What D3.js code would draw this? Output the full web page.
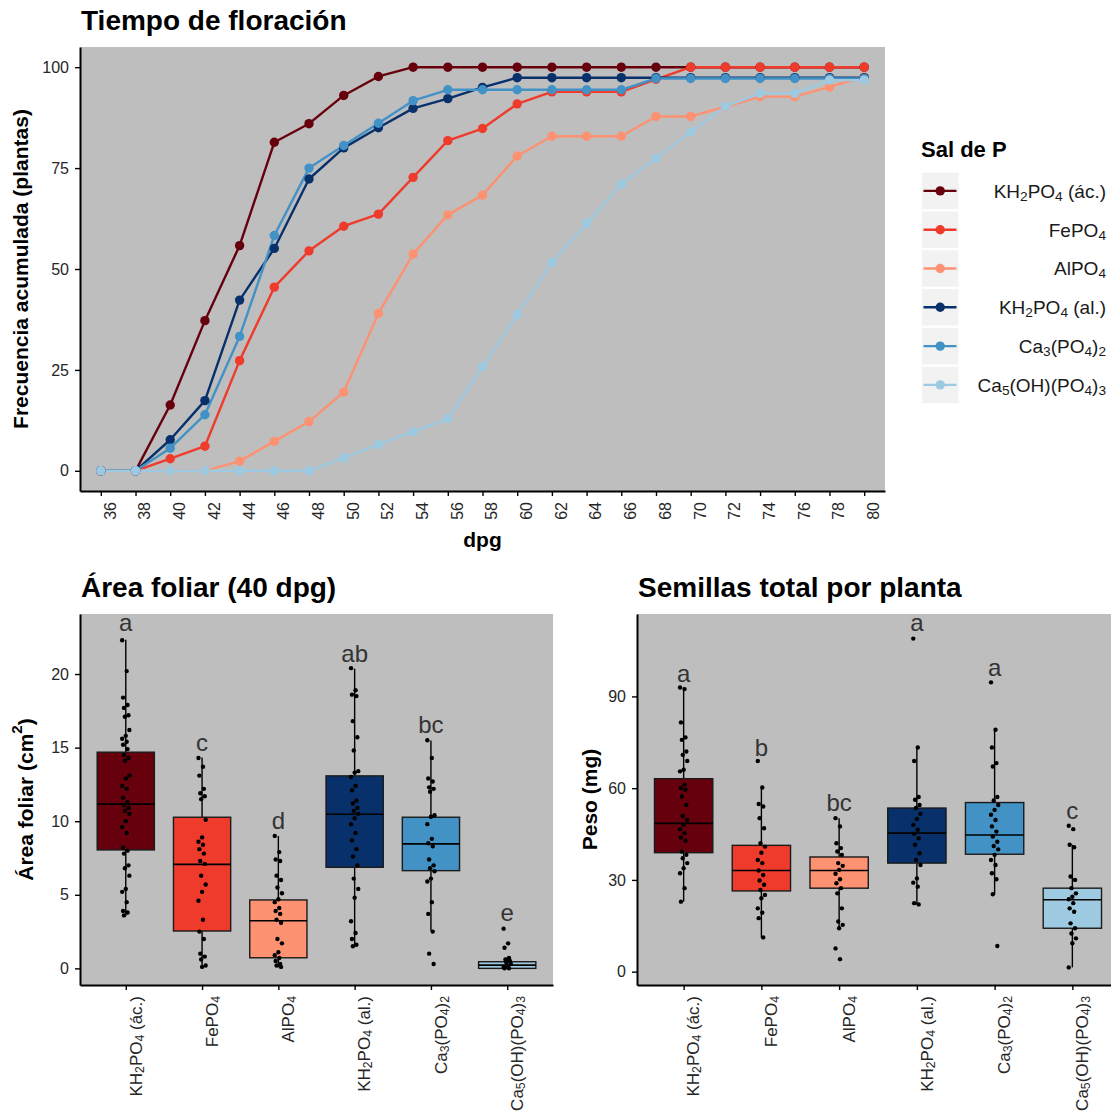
<!DOCTYPE html>
<html>
<head>
<meta charset="utf-8">
<script src="https://cdn.jsdelivr.net/npm/d3@7"></script>
<style>
  body { margin: 0; background: #fff; }
  svg { display: block; font-family: "Liberation Sans", Arial, Helvetica, sans-serif; }
</style>
</head>
<body>
<svg id="fig" width="1111" height="1120"></svg>
<script>
// ---- shared categories ----
const salts = ["KH2PO4 (ác.)", "FePO4", "AlPO4", "KH2PO4 (al.)", "Ca3(PO4)2", "Ca5(OH)(PO4)3"];
// label pieces: [text, "sub" | ""]
const saltLabels = [
  [["KH", ""], ["2", "sub"], ["PO", ""], ["4", "sub"], [" (ác.)", ""]],
  [["FePO", ""], ["4", "sub"]],
  [["AlPO", ""], ["4", "sub"]],
  [["KH", ""], ["2", "sub"], ["PO", ""], ["4", "sub"], [" (al.)", ""]],
  [["Ca", ""], ["3", "sub"], ["(PO", ""], ["4", "sub"], [")", ""], ["2", "sub"]],
  [["Ca", ""], ["5", "sub"], ["(OH)(PO", ""], ["4", "sub"], [")", ""], ["3", "sub"]]
];
const saltColors = ["#67000d", "#ef3b2c", "#fc9272", "#08306b", "#4292c6", "#9ecae1"];

// ---- flowering time: cumulative % of plants flowered ----
const dpg = [36, 38, 40, 42, 44, 46, 48, 50, 52, 54, 56, 58, 60, 62, 64, 66, 68, 70, 72, 74, 76, 78, 80];
const flowKH2PO4ac = [0, 0, 16.3, 37.2, 55.8, 81.4, 86.0, 93.0, 97.7, 100, 100, 100, 100, 100, 100, 100, 100, 100, 100, 100, 100, 100, 100];
const flowFePO4    = [0, 0, 3.0, 6.1, 27.3, 45.5, 54.5, 60.6, 63.6, 72.7, 81.8, 84.8, 90.9, 93.9, 93.9, 93.9, 97.0, 100, 100, 100, 100, 100, 100];
const flowAlPO4    = [0, 0, 0, 0, 2.4, 7.3, 12.2, 19.5, 39.0, 53.7, 63.4, 68.3, 78.0, 82.9, 82.9, 82.9, 87.8, 87.8, 90.2, 92.7, 92.7, 95.1, 97.6];
const flowKH2PO4al = [0, 0, 7.7, 17.4, 42.3, 55.1, 72.3, 80.0, 85.0, 89.8, 92.2, 95.0, 97.4, 97.4, 97.4, 97.4, 97.4, 97.4, 97.4, 97.4, 97.4, 97.4, 97.4];
const flowCa3PO4   = [0, 0, 5.6, 13.9, 33.3, 58.3, 75.0, 80.6, 86.1, 91.7, 94.4, 94.4, 94.4, 94.4, 94.4, 94.4, 97.2, 97.2, 97.2, 97.2, 97.2, 97.2, 97.2];
const flowCa5OHPO4 = [0, 0, 0, 0, 0, 0, 0, 3.2, 6.5, 9.7, 12.9, 25.8, 38.7, 51.6, 61.3, 71.0, 77.4, 83.9, 90.3, 93.5, 93.5, 96.8, 96.8];
const flowSeries = [flowKH2PO4ac, flowFePO4, flowAlPO4, flowKH2PO4al, flowCa3PO4, flowCa5OHPO4];
const flowTicks = [0, 25, 50, 75, 100];

// ---- leaf area at 40 dpg (cm2) ----
const areaPtsKH2PO4ac = [22.3, 20.2, 18.4, 17.9, 17.7, 17.2, 17.1, 16.2, 15.8, 15.6, 15.4, 15.2, 14.9, 14.5, 14.3, 14.1, 13.1, 12.9, 12.4, 12.2, 11.6, 11.3, 11.1, 10.9, 10.7, 10.5, 10.0, 9.6, 9.2, 8.2, 8.0, 7.8, 7.0, 6.8, 6.3, 5.4, 5.2, 4.5, 3.9, 3.8, 3.6];
const areaPtsFePO4 = [14.3, 13.7, 13.1, 12.2, 11.9, 11.7, 11.5, 10.1, 8.9, 8.6, 8.4, 8.1, 7.8, 7.3, 7.1, 6.3, 5.7, 5.2, 4.6, 3.3, 2.5, 2.0, 1.0, 0.8, 0.6, 0.2, 0.1];
const areaPtsAlPO4 = [9.0, 7.9, 7.4, 7.3, 6.3, 6.0, 5.5, 5.1, 4.7, 4.5, 4.1, 3.9, 3.7, 3.3, 3.1, 2.0, 1.7, 1.1, 0.9, 0.7, 0.5, 0.3, 0.2, 0.1];
const areaPtsKH2PO4al = [20.4, 18.9, 18.6, 18.5, 16.8, 15.7, 14.8, 13.4, 13.3, 13.0, 12.4, 12.1, 11.4, 11.2, 10.9, 10.7, 10.5, 10.2, 9.8, 9.2, 8.7, 8.1, 7.6, 7.0, 6.1, 5.4, 4.8, 3.2, 2.4, 2.0, 1.6, 1.5];
const areaPtsCa3PO4 = [15.5, 14.3, 12.9, 12.7, 12.3, 12.2, 12.0, 10.4, 10.3, 9.8, 8.8, 8.5, 8.3, 7.4, 7.0, 6.8, 6.6, 6.1, 5.9, 4.5, 3.7, 2.5, 1.0, 0.3];
const areaPtsCa5OHPO4 = [2.7, 1.7, 1.4, 0.7, 0.6, 0.5, 0.4, 0.3, 0.2, 0.1, 0.1, 0.0, 0.0];
const areaQ1     = [8.05, 2.54, 0.72, 6.87, 6.64, 0.0];
const areaMedian = [11.16, 7.07, 3.24, 10.47, 8.46, 0.22];
const areaQ3     = [14.69, 10.27, 4.65, 13.08, 10.27, 0.45];
const areaLow    = [3.56, 0.11, 0.07, 1.47, 2.56, 0.0];
const areaHigh   = [22.33, 14.33, 9.0, 20.36, 15.49, 0.75];
const areaLetters = ["a", "c", "d", "ab", "bc", "e"];
const areaLetterY = [22.9, 14.8, 9.5, 20.8, 16.0, 3.24];
const areaTicks = [0, 5, 10, 15, 20];

// ---- total seed weight per plant (mg) ----
const seedPtsKH2PO4ac = [92.9, 92.4, 81.5, 76.6, 75.8, 72.0, 70.9, 68.9, 66.0, 65.5, 61.1, 60.0, 59.5, 57.3, 54.5, 50.9, 49.6, 48.0, 46.6, 45.3, 43.9, 42.8, 39.3, 38.2, 37.1, 35.5, 33.8, 32.2, 27.3, 22.9];
const seedPtsFePO4 = [68.9, 60.2, 54.8, 54.0, 50.2, 46.9, 42.0, 40.9, 38.9, 36.5, 35.5, 33.1, 31.6, 29.8, 28.4, 26.7, 25.1, 24.0, 20.7, 19.3, 17.5, 11.2];
const seedPtsAlPO4 = [50.2, 47.5, 42.0, 40.4, 39.3, 38.2, 35.5, 34.6, 33.3, 32.0, 30.2, 28.9, 27.3, 25.6, 20.7, 16.4, 15.3, 14.2, 7.6, 4.1];
const seedPtsKH2PO4al = [108.9, 73.3, 68.9, 57.1, 56.2, 54.5, 53.5, 51.6, 49.9, 48.0, 46.4, 45.1, 43.6, 41.5, 38.7, 36.5, 34.9, 30.5, 29.1, 27.8, 22.4, 22.0];
const seedPtsCa3PO4 = [94.6, 79.1, 73.3, 68.2, 67.1, 57.1, 56.0, 54.5, 52.9, 51.3, 49.6, 47.5, 45.8, 44.2, 42.5, 41.1, 40.0, 38.2, 36.5, 34.9, 32.2, 30.2, 25.3, 8.4];
const seedPtsCa5OHPO4 = [47.7, 46.6, 41.5, 40.7, 31.1, 30.0, 27.3, 25.6, 24.5, 23.7, 22.4, 20.7, 19.6, 15.8, 14.2, 12.5, 10.9, 9.3, 1.4];
const seedQ1     = [38.9, 26.4, 27.3, 35.5, 38.4, 14.2];
const seedMedian = [48.5, 33.1, 33.1, 45.3, 44.7, 23.5];
const seedQ3     = [63.1, 41.3, 37.5, 53.5, 55.3, 27.3];
const seedLow    = [22.9, 11.2, 14.2, 22.0, 25.3, 1.4];
const seedHigh   = [92.9, 60.2, 50.2, 73.3, 79.1, 41.5];
const seedLetters = ["a", "b", "bc", "a", "a", "c"];
const seedLetterY = [94.7, 70.6, 52.4, 111.3, 96.8, 49.9];
const seedTicks = [0, 30, 60, 90];

// ---------------------------------------------------------------
const svg = d3.select("#fig");
svg.append("rect").attr("width", 1111).attr("height", 1120).attr("fill", "#fff");

const PANEL_BG = "#bebebe";
const TICK_TEXT = "#262626";

function richText(sel, pieces) {
  pieces.forEach(([t, kind]) => {
    const ts = sel.append("tspan").text(t);
    if (kind === "sub") ts.attr("font-size", "72%").attr("baseline-shift", "-0.2em");
    if (kind === "sup") ts.attr("font-size", "72%").attr("baseline-shift", "0.55em");
  });
}

function styleAxis(g) {
  g.select(".domain").attr("stroke", "#000").attr("stroke-width", 2);
  g.selectAll(".tick line").attr("stroke", "#000").attr("stroke-width", 1.4);
}

function yAxis(g, scale, ticks, x) {
  g.attr("transform", `translate(${x},0)`)
    .call(d3.axisLeft(scale).tickValues(ticks).tickSize(5).tickSizeOuter(0).tickPadding(6))
    .call(styleAxis);
  g.selectAll(".tick text").attr("font-size", 16).attr("fill", TICK_TEXT)
    .attr("font-family", "Liberation Sans, Arial, sans-serif");
}

// rotate bottom tick labels to read upward, top edge aligned with the tick
function rotateXLabels(g, size) {
  g.selectAll(".tick text")
    .attr("transform", "rotate(-90)")
    .attr("x", -11).attr("y", 0).attr("dy", "0.9em")
    .attr("text-anchor", "end")
    .attr("font-size", size).attr("fill", TICK_TEXT)
    .attr("font-family", "Liberation Sans, Arial, sans-serif");
}

// ================= Flowering time =================
{
  const L = 80, R = 885, T = 47, B = 491;
  const x = d3.scalePoint().domain(dpg).range([L, R]).padding(0.6);
  const y = d3.scaleLinear().domain([-5, 105]).range([B, T]);

  svg.append("rect").attr("x", L).attr("y", T).attr("width", R - L).attr("height", B - T).attr("fill", PANEL_BG);

  const line = d3.line().x(d => x(d[0])).y(d => y(d[1]));
  const seriesPts = flowSeries.map(s => dpg.map((d, i) => [d, s[i]]));

  const gl = svg.append("g");
  seriesPts.forEach((pts, k) => {
    gl.append("path").attr("d", line(pts)).attr("fill", "none")
      .attr("stroke", saltColors[k]).attr("stroke-width", 2.4).attr("stroke-linejoin", "round");
  });
  seriesPts.forEach((pts, k) => {
    gl.selectAll(null).data(pts).join("circle")
      .attr("cx", d => x(d[0])).attr("cy", d => y(d[1])).attr("r", 4.7)
      .attr("fill", saltColors[k]);
  });

  svg.append("g").call(g => yAxis(g, y, flowTicks, L));
  svg.append("g").attr("transform", `translate(0,${B})`)
    .call(d3.axisBottom(x).tickSize(5).tickSizeOuter(0).tickPadding(6))
    .call(styleAxis)
    .call(g => rotateXLabels(g, 16));

  svg.append("text").attr("x", 81).attr("y", 30).attr("font-size", 28).attr("font-weight", "bold")
    .text("Tiempo de floración");
  svg.append("text").attr("x", (L + R) / 2).attr("y", 547).attr("text-anchor", "middle")
    .attr("font-size", 21).attr("font-weight", "bold").text("dpg");
  svg.append("text").attr("transform", `translate(20,${(T + B) / 2}) rotate(-90)`)
    .attr("text-anchor", "middle").attr("dominant-baseline", "central")
    .attr("font-size", 21).attr("font-weight", "bold").text("Frecuencia acumulada (plantas)");

  // legend
  const lg = svg.append("g");
  lg.append("text").attr("x", 921).attr("y", 157).attr("font-size", 22).attr("font-weight", "bold").text("Sal de P");
  salts.forEach((s, i) => {
    const y0 = 172.7 + i * 38.8, cy = y0 + 18.2;
    lg.append("rect").attr("x", 922).attr("y", y0).attr("width", 36.5).attr("height", 36.5).attr("fill", "#f2f2f2");
    lg.append("line").attr("x1", 923.5).attr("x2", 956.5).attr("y1", cy).attr("y2", cy)
      .attr("stroke", saltColors[i]).attr("stroke-width", 2.4);
    lg.append("circle").attr("cx", 940.2).attr("cy", cy).attr("r", 4.7).attr("fill", saltColors[i]);
    const t = lg.append("text").attr("x", 1106).attr("y", cy).attr("dy", "0.36em")
      .attr("text-anchor", "end").attr("font-size", 19).attr("fill", "#1a1a1a");
    richText(t, saltLabels[i]);
  });
}

// ================= Box plots =================
function boxPanel(cfg) {
  const { L, R, T, B, domain, ticks, groups, q1, med, q3, lo, hi, letters, letterY, title, ylabel, ylabelX } = cfg;
  const x = d3.scalePoint().domain(salts).range([L, R]).padding(0.6);
  const y = d3.scaleLinear().domain(domain).range([B, T]);
  const bw = x.step() * 0.75;

  const clipId = "clip" + Math.round(L);
  svg.append("clipPath").attr("id", clipId).append("rect")
    .attr("x", L).attr("y", T).attr("width", Math.min(R, 1111) - L).attr("height", B - T);
  svg.append("rect").attr("x", L).attr("y", T).attr("width", Math.min(R, 1111) - L).attr("height", B - T).attr("fill", PANEL_BG);

  const g = svg.append("g").attr("clip-path", `url(#${clipId})`);
  salts.forEach((s, i) => {
    const cx = x(s);
    g.append("line").attr("x1", cx).attr("x2", cx).attr("y1", y(hi[i])).attr("y2", y(q3[i]))
      .attr("stroke", "#000").attr("stroke-width", 1.4);
    g.append("line").attr("x1", cx).attr("x2", cx).attr("y1", y(q1[i])).attr("y2", y(lo[i]))
      .attr("stroke", "#000").attr("stroke-width", 1.4);
    g.append("rect").attr("x", cx - bw / 2).attr("width", bw)
      .attr("y", y(q3[i])).attr("height", y(q1[i]) - y(q3[i]))
      .attr("fill", saltColors[i]).attr("stroke", "#1a1a1a").attr("stroke-width", 1.4);
    g.append("line").attr("x1", cx - bw / 2).attr("x2", cx + bw / 2).attr("y1", y(med[i])).attr("y2", y(med[i]))
      .attr("stroke", "#000").attr("stroke-width", 1.6);
  });
  salts.forEach((s, i) => {
    const cx = x(s);
    g.selectAll(null).data(groups[i]).join("circle")
      .attr("cx", (d, j) => cx + ((j * 5) % 9 - 4) * 0.9)
      .attr("cy", d => y(d)).attr("r", 2.2).attr("fill", "#000");
    g.append("text").attr("x", cx).attr("y", y(letterY[i])).attr("text-anchor", "middle")
      .attr("font-size", 24).attr("fill", "#333").text(letters[i]);
  });

  svg.append("g").call(gg => yAxis(gg, y, ticks, L));
  svg.append("g").attr("transform", `translate(0,${B})`)
    .call(d3.axisBottom(x).tickSize(5).tickSizeOuter(0).tickPadding(6).tickFormat(""))
    .call(styleAxis)
    .call(gg => {
      gg.selectAll(".tick").each(function (d, i) {
        const t = d3.select(this).append("text")
          .attr("transform", "rotate(-90)").attr("x", -11).attr("y", 0).attr("dy", "0.9em")
          .attr("text-anchor", "end").attr("font-size", 17).attr("fill", TICK_TEXT);
        richText(t, saltLabels[i]);
      });
    });

  svg.append("text").attr("x", L + 1).attr("y", 597).attr("font-size", 28).attr("font-weight", "bold").text(title);
  const yl = svg.append("text").attr("transform", `translate(${ylabelX},${(T + B) / 2}) rotate(-90)`)
    .attr("text-anchor", "middle").attr("dominant-baseline", "central")
    .attr("font-size", 21).attr("font-weight", "bold");
  richText(yl, ylabel);
}

boxPanel({
  L: 80, R: 553, T: 614, B: 985, domain: [-1.13, 24.08], ticks: areaTicks,
  groups: [areaPtsKH2PO4ac, areaPtsFePO4, areaPtsAlPO4, areaPtsKH2PO4al, areaPtsCa3PO4, areaPtsCa5OHPO4],
  q1: areaQ1, med: areaMedian, q3: areaQ3, lo: areaLow, hi: areaHigh,
  letters: areaLetters, letterY: areaLetterY,
  title: "Área foliar (40 dpg)", ylabel: [["Área foliar (cm", ""], ["2", "sup"], [")", ""]], ylabelX: 25
});

boxPanel({
  L: 637, R: 1119, T: 614, B: 985, domain: [-4.36, 116.95], ticks: seedTicks,
  groups: [seedPtsKH2PO4ac, seedPtsFePO4, seedPtsAlPO4, seedPtsKH2PO4al, seedPtsCa3PO4, seedPtsCa5OHPO4],
  q1: seedQ1, med: seedMedian, q3: seedQ3, lo: seedLow, hi: seedHigh,
  letters: seedLetters, letterY: seedLetterY,
  title: "Semillas total por planta", ylabel: [["Peso (mg)", ""]], ylabelX: 589
});
</script>
</body>
</html>
